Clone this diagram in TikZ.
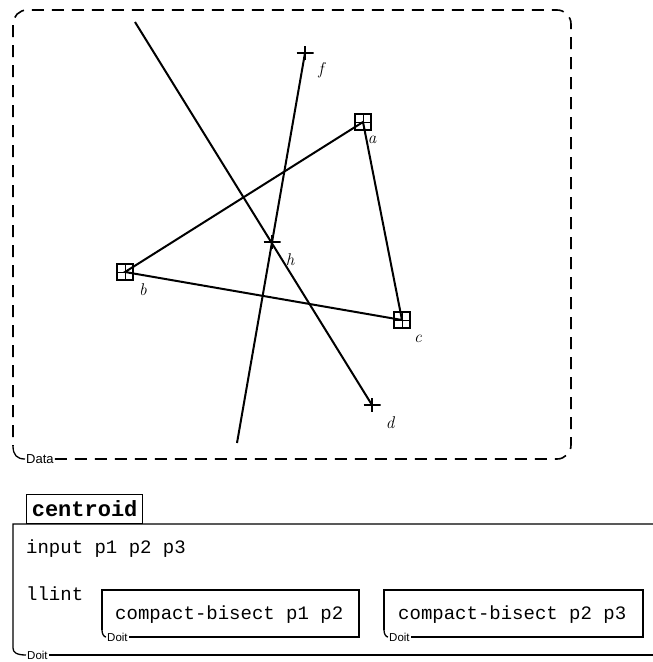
\documentclass[tikz,border=0pt]{standalone}
\usepackage{fontspec}
\newfontfamily\monof{Liberation Mono}
\newfontfamily\sansf{Liberation Sans}
\newfontfamily\lmital{Latin Modern Roman}
\begin{document}
\begin{tikzpicture}[x=1pt,y=-1pt,
  ln/.style={line width=2pt},
  sq/.style={draw, line width=1.6pt, minimum size=16pt, inner sep=0pt,
    path picture={\draw[line width=0.8pt] (path picture bounding box.north) -- (path picture bounding box.south)
      (path picture bounding box.west) -- (path picture bounding box.east);}},
  plusmk/.style={minimum width=17pt, minimum height=14pt, inner sep=0pt,
    path picture={\draw[line width=1.1pt] (path picture bounding box.north) -- (path picture bounding box.south)
      (path picture bounding box.west) -- (path picture bounding box.east);}},
  lbl/.style={inner sep=0pt, font=\lmital\itshape\fontsize{17}{17}\selectfont},
  tag/.style={inner sep=1pt, font=\sansf\fontsize{11.5}{12}\selectfont},
  mono/.style={inner sep=0pt, anchor=base west, font=\monof\fontsize{19}{20}\selectfont},
  frame/.style={line width=1.3pt},
  dashframe/.style={line width=1.6pt, dash pattern=on 12pt off 8pt}]
\useasboundingbox (0,0) rectangle (653,662);

% ---- data area ----
\node[tag, anchor=west, font=\sansf\fontsize{13}{13}\selectfont] (data) at (25,459) {Data};
\draw[dashframe, rounded corners=14pt] (data.east) -- (571,459) -- (571,10) -- (13,10) -- (13,446);
\draw[frame] (13,446) .. controls (13,455) and (17,459) .. (data.west);

\node[sq] (a) at (363,122) {};
\node[sq] (b) at (125,272) {};
\node[sq] (c) at (402,320) {};
\node[plusmk] (f) at (305,53) {};
\node[plusmk] (h) at (272,242) {};
\node[plusmk] (d) at (372,405) {};
\coordinate (ftail) at (237,443);
\coordinate (dtop) at (135,22);

\draw[ln] (a.center) -- (b.center) -- (c.center) -- cycle;
\draw[ln] (f.center) -- (ftail);
\draw[ln] (dtop) -- (d.center);

\node[lbl] (la) at (372,140) {a};
\node[lbl] (lb) at (143,290) {b};
\node[lbl] (lc) at (418,339) {c};
\node[lbl] (ld) at (390,423) {d};
\node[lbl] (lf) at (321,70) {f};
\node[lbl] (lh) at (290,260) {h};

% ---- centroid box ----
\node[draw, frame, anchor=south west, minimum width=116pt, minimum height=29pt, inner sep=0pt,
  font=\monof\bfseries\fontsize{22}{22}\selectfont] (cen) at (26,524) {centroid};
\node[tag, anchor=west] (doit0) at (26,655) {Doit};
\draw[frame] (653,524) -- (13,524) -- (13,648) .. controls (13,652) and (16,655) .. (doit0.west);
\draw[frame] (doit0.east) -- (653,655);

\node[mono] (inp) at (26,553) {input p1 p2 p3};
\node[mono] (llint) at (26,600) {llint};

\node[tag, anchor=west] (doit1) at (106,637) {Doit};
\draw[frame] (102,630) -- (102,590) -- (359,590) -- (359,637) -- (doit1.east);
\draw[frame] (102,630) .. controls (102,634) and (104,637) .. (doit1.west);
\node[mono] (cb1) at (115,619) {compact-bisect p1 p2};

\node[tag, anchor=west] (doit2) at (388,637) {Doit};
\draw[frame] (384,630) -- (384,590) -- (643,590) -- (643,637) -- (doit2.east);
\draw[frame] (384,630) .. controls (384,634) and (386,637) .. (doit2.west);
\node[mono] (cb2) at (398,619) {compact-bisect p2 p3};
\end{tikzpicture}
\end{document}
